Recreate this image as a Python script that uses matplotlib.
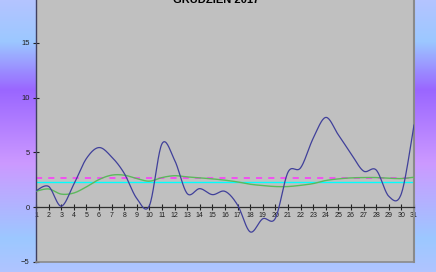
#!/usr/bin/env python3
# -*- coding: utf-8 -*-
"""Temperatura dobowa - grudzień 2017 (wykres w stylu Excela)."""

import numpy as np
import matplotlib
matplotlib.use("Agg")
import matplotlib.pyplot as plt
from matplotlib.colors import LinearSegmentedColormap

# ================= DANE =================
DAYS = list(range(1, 32))
TEMP_DAILY = [1.5, 1.9, 0.1, 2.1, 4.45, 5.45, 4.6, 3.1, 0.8, 0.15,
              5.8, 4.3, 1.25, 1.7, 1.15, 1.45, 0.2, -2.25, -1.05, -1.0,
              3.2, 3.6, 6.3, 8.2, 6.6, 4.9, 3.3, 3.4, 1.0, 1.25, 7.5]
TEMP_NORM = [1.46, 1.67, 1.2, 1.3, 1.86, 2.53, 2.93, 2.93, 2.62, 2.38,
             2.71, 2.88, 2.77, 2.68, 2.59, 2.47, 2.31, 2.1, 1.98, 1.89,
             1.89, 2.0, 2.16, 2.44, 2.59, 2.68, 2.71, 2.71, 2.65, 2.62, 2.74]
MEAN_MONTH = 2.68
MEAN_NORM = 2.26
TITLE = "GRUDZIEŃ 2017"
Y_TICKS = [-5, 0, 5, 10, 15]
# ========================================


def smooth_line(x, y, n=20):
    """Wygładzanie jak w Excelu (Catmull-Rom / Bezier)."""
    x = np.asarray(x, float)
    y = np.asarray(y, float)
    px = np.concatenate([[x[0]], x, [x[-1]]])
    py = np.concatenate([[y[0]], y, [y[-1]]])
    xs, ys = [], []
    t = np.linspace(0, 1, n, endpoint=False)
    for i in range(1, len(px) - 2):
        p0 = np.array([px[i], py[i]])
        p3 = np.array([px[i + 1], py[i + 1]])
        c1 = p0 + (np.array([px[i + 1], py[i + 1]]) - np.array([px[i - 1], py[i - 1]])) / 6
        c2 = p3 - (np.array([px[i + 2], py[i + 2]]) - np.array([px[i], py[i]])) / 6
        b = ((1 - t) ** 3)[:, None] * p0 + (3 * (1 - t) ** 2 * t)[:, None] * c1 \
            + (3 * (1 - t) * t ** 2)[:, None] * c2 + (t ** 3)[:, None] * p3
        xs.extend(b[:, 0]); ys.extend(b[:, 1])
    xs.append(x[-1]); ys.append(y[-1])
    return np.array(xs), np.array(ys)


plt.rcParams['font.family'] = ['Liberation Sans', 'DejaVu Sans']

fig = plt.figure(figsize=(4.36, 2.72), dpi=100)

# tło - gradient pionowy
bg = fig.add_axes([0, 0, 1, 1], zorder=-10)
cmap = LinearSegmentedColormap.from_list("bg", [
    (0.0, "#b4c4ff"), (0.15, "#9cc8ff"), (0.33, "#9a66ff"),
    (0.6, "#cc99ff"), (0.88, "#9cc8ff"), (1.0, "#b0c4ff")])
grad = np.linspace(0, 1, 256)[:, None]
bg.imshow(grad, aspect='auto', cmap=cmap, extent=[0, 1, 0, 1], origin='upper')
bg.axis('off')

L, R = 36 / 436, 414 / 436
B = 10 / 272
top_px = -11.8
ax = fig.add_axes([L, B, R - L, (262 - top_px) / 272])
ax.set_facecolor('#c0c0c0')
ax.set_xlim(1, 31)
ax.set_ylim(-5, 20)

xs, ys = smooth_line(DAYS, TEMP_NORM)
ax.plot(xs, ys, color='#5cb85c', lw=1.0, zorder=3)
ax.axhline(MEAN_NORM, color='#00ffff', lw=1.0, zorder=2)
ax.axhline(MEAN_MONTH, color='#ff33ff', lw=1.1, dashes=(4, 4), zorder=2)
xs, ys = smooth_line(DAYS, TEMP_DAILY)
ax.plot(xs, ys, color='#40409a', lw=0.9, zorder=4)

# osie
ax.spines['bottom'].set_position(('data', 0))
ax.spines['bottom'].set_color('#303030')
ax.spines['bottom'].set_linewidth(0.9)
ax.spines['left'].set_color('#404060')
ax.spines['left'].set_linewidth(1.0)
ax.spines['top'].set_visible(False)
ax.spines['right'].set_color('#8a8a8a')
ax.spines['right'].set_linewidth(1.5)
ax.plot([1, 31], [-5, -5], color='#8a8a8a', lw=1.2, clip_on=False, zorder=5)

ax.set_xticks(DAYS)
ax.set_xticklabels([str(d) for d in DAYS])
ax.set_yticks(Y_TICKS)
ax.tick_params(axis='x', direction='inout', length=5, width=0.8, labelsize=5,
               pad=1, colors='#202020')
ax.tick_params(axis='y', direction='inout', length=5, width=0.8, labelsize=5.5,
               pad=2, colors='#202020')

fig.text(216 / 436, 1 - 3 / 272, TITLE, ha='center', va='baseline',
         fontsize=8, fontweight='bold', color='black')

fig.savefig('out.png', dpi=100)
